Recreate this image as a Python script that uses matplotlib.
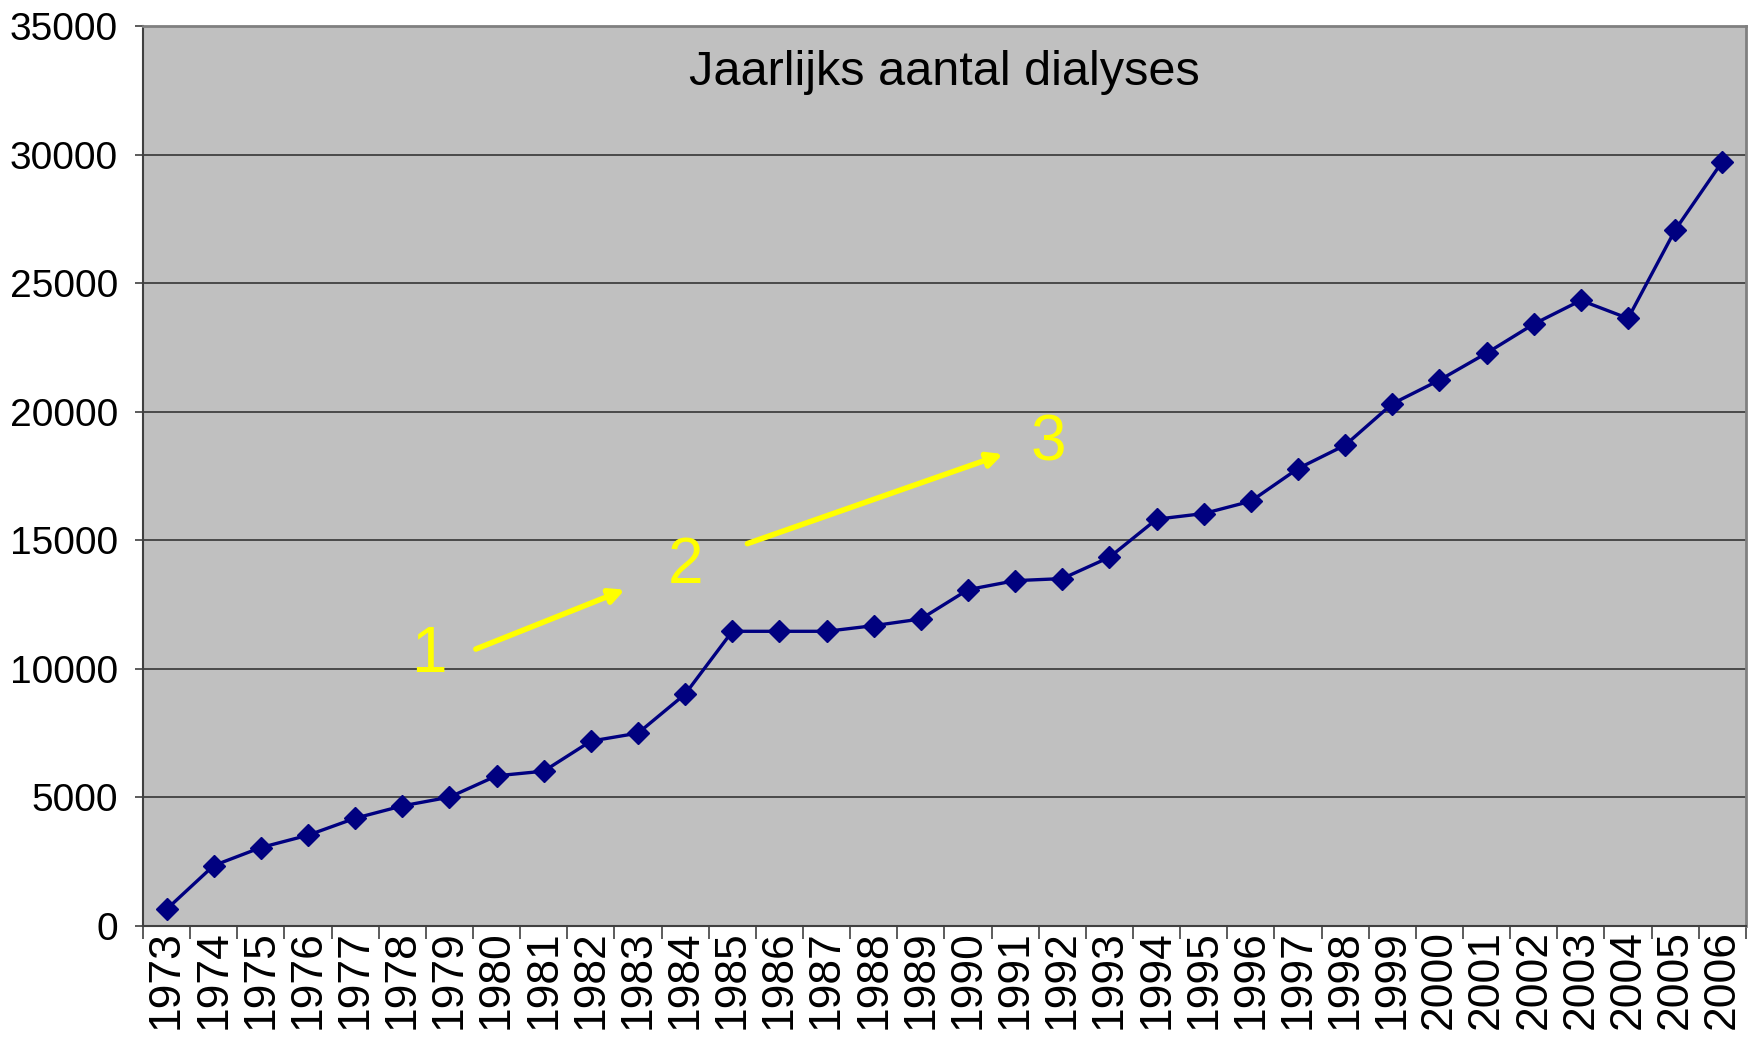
import numpy as np
import matplotlib.pyplot as plt

plt.rcParams['font.family'] = ['Liberation Sans', 'DejaVu Sans']

years = [str(y) for y in range(1973, 2007)]
dialyses = [650, 2350, 3050, 3530, 4190, 4670, 5010, 5840, 6020, 7190,
            7500, 9020, 11460, 11460, 11460, 11680, 11940, 13080, 13430, 13510,
            14340, 15820, 16040, 16520, 17790, 18700, 20310, 21230, 22280, 23410,
            24330, 23630, 27070, 29730]
y_ticks = [0, 5000, 10000, 15000, 20000, 25000, 30000, 35000]

# annotation labels (yellow numbers with arrows)
steps = ['1', '2', '3']

fig = plt.figure(figsize=(17.57, 10.41), dpi=100)
ax = fig.add_axes([0.0814, 0.1105, 0.9123, 0.8645])
ax.set_facecolor('#C0C0C0')

x = np.arange(len(years))
ax.plot(x, dialyses, color='#000080', lw=2.4, marker='D', markersize=11.5,
        zorder=3)

ax.set_xlim(-0.5, len(years) - 0.5)
ax.set_ylim(0, 35000)
ax.set_yticks(y_ticks)
ax.set_yticklabels([str(v) for v in y_ticks], fontsize=28)
ax.yaxis.grid(True, color='#404040', lw=1.3)
ax.set_axisbelow(True)

ax.set_xticks(x)
ax.set_xticklabels(years, rotation=90, fontsize=32)
ax.set_xticks(np.arange(len(years) + 1) - 0.5, minor=True)
ax.tick_params(axis='x', which='major', length=0, pad=3)
ax.tick_params(axis='x', which='minor', length=9, width=1.2, color='#404040')
ax.tick_params(axis='y', length=6, width=1.2, color='#404040', pad=12)

for s in ['top', 'right']:
    ax.spines[s].set_color('#808080')
    ax.spines[s].set_linewidth(2)
for s in ['left', 'bottom']:
    ax.spines[s].set_color('#404040')
    ax.spines[s].set_linewidth(1.5)

ax.text(0.5, 0.948, 'Jaarlijks aantal dialyses', transform=ax.transAxes,
        ha='center', va='center', fontsize=35)

# yellow step labels and arrows
text_pos = [(5.56, 10550), (11.01, 14000), (18.71, 18750)]
for lab, (tx, ty) in zip(steps, text_pos):
    ax.text(tx, ty, lab, color='#FFFF00', fontsize=46, ha='center', va='center')

arrows = [((6.56, 10770), (9.72, 13080)), ((12.32, 14870), (17.74, 18350))]
for (sx, sy), (ex, ey) in arrows:
    ax.annotate('', xy=(ex, ey), xytext=(sx, sy),
                arrowprops=dict(arrowstyle='-|>', color='#FFFF00', lw=4,
                                mutation_scale=22, shrinkA=0, shrinkB=0))

fig.savefig('out.png', dpi=100)
